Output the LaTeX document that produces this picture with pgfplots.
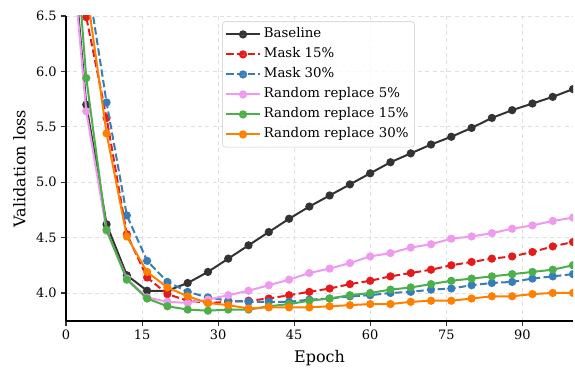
\documentclass[border=0pt]{standalone}
\usepackage{pgfplots}
\pgfplotsset{compat=1.18}
\usepackage{fontspec}
\setmainfont{DejaVu Serif}
\definecolor{cbase}{HTML}{333333}
\definecolor{cred}{HTML}{E41A1C}
\definecolor{cblue}{HTML}{377EB8}
\definecolor{cpink}{HTML}{EE9AEE}
\definecolor{cgreen}{HTML}{4DAF4A}
\definecolor{corange}{HTML}{FF7F00}
\begin{document}
\begin{tikzpicture}
\begin{axis}[
  width=380.25pt, height=228.75pt, scale only axis,
  xmin=0, xmax=100, ymin=3.747, ymax=6.5,
  axis x line*=bottom, axis y line*=left,
  axis line style={line width=0.8pt, black, -},
  xtick={0,15,30,45,60,75,90},
  ytick={4.0,4.5,5.0,5.5,6.0,6.5},
  yticklabel style={/pgf/number format/fixed, /pgf/number format/fixed zerofill, /pgf/number format/precision=1},
  /pgf/number format/assume math mode=true,
  tick label style={font=\fontsize{9.7}{11}\selectfont},
  tick align=outside, major tick length=3.5pt,
  tick style={line width=0.8pt, black!80},
  grid=major,
  major grid style={dash pattern=on 3pt off 2.5pt, color=black!12, line width=0.6pt},
  xlabel={Epoch}, ylabel={Validation loss},
  label style={font=\fontsize{12}{14}\selectfont},
  xlabel style={yshift=-0.5pt},
  ylabel style={yshift=1pt},
  clip marker paths=true,
  every axis plot/.append style={line width=1.5pt, mark=*, mark size=2.3pt, mark options={solid}},
  legend style={at={(0.3085,0.982)}, anchor=north west, draw=black!20, rounded corners=2pt,
    fill=white, fill opacity=0.8, text opacity=1, font=\fontsize{10}{12}\selectfont,
    row sep=0pt, inner sep=2pt,
    nodes={text height=7.6pt, text depth=2.6pt, inner sep=2.4pt}},
  legend cell align=left,
  legend image code/.code={\draw[mark repeat=2,mark phase=2] plot coordinates {(0pt,0pt) (12.5pt,0pt) (25pt,0pt)};},
]
\addplot[color=cbase] coordinates {
(0,7.8) (4,5.70) (8,4.62) (12,4.16) (16,4.02) (20,4.02) (24,4.09) (28,4.19) (32,4.31) (36,4.43) (40,4.55) (44,4.67) (48,4.78) (52,4.88) (56,4.98) (60,5.08) (64,5.18) (68,5.26) (72,5.34) (76,5.41) (80,5.49) (84,5.58) (88,5.65) (92,5.71) (96,5.77) (100,5.84)};
\addlegendentry{Baseline}
\addplot[color=cred, dash pattern=on 5.5pt off 2.5pt] coordinates {
(0,8.3) (4,6.49) (8,5.58) (12,4.53) (16,4.14) (20,3.99) (24,3.93) (28,3.91) (32,3.92) (36,3.93) (40,3.95) (44,3.98) (48,4.01) (52,4.04) (56,4.08) (60,4.11) (64,4.15) (68,4.18) (72,4.21) (76,4.25) (80,4.28) (84,4.31) (88,4.33) (92,4.37) (96,4.42) (100,4.46)};
\addlegendentry{Mask 15\%}
\addplot[color=cblue, dash pattern=on 5.5pt off 2.5pt] coordinates {
(0,8.5) (4,6.9) (8,5.72) (12,4.70) (16,4.29) (20,4.10) (24,4.01) (28,3.96) (32,3.93) (36,3.92) (40,3.92) (44,3.92) (48,3.94) (52,3.95) (56,3.97) (60,3.98) (64,4.00) (68,4.01) (72,4.03) (76,4.04) (80,4.07) (84,4.09) (88,4.10) (92,4.13) (96,4.15) (100,4.17)};
\addlegendentry{Mask 30\%}
\addplot[color=cpink] coordinates {
(0,7.7) (4,5.64) (8,4.56) (12,4.13) (16,3.96) (20,3.92) (24,3.91) (28,3.94) (32,3.98) (36,4.02) (40,4.07) (44,4.12) (48,4.18) (52,4.22) (56,4.27) (60,4.33) (64,4.36) (68,4.41) (72,4.44) (76,4.49) (80,4.51) (84,4.54) (88,4.58) (92,4.61) (96,4.65) (100,4.68)};
\addlegendentry{Random replace 5\%}
\addplot[color=cgreen] coordinates {
(0,8.3) (4,5.94) (8,4.57) (12,4.12) (16,3.95) (20,3.88) (24,3.85) (28,3.84) (32,3.85) (36,3.85) (40,3.88) (44,3.90) (48,3.93) (52,3.95) (56,3.98) (60,4.00) (64,4.03) (68,4.05) (72,4.08) (76,4.11) (80,4.13) (84,4.15) (88,4.17) (92,4.19) (96,4.21) (100,4.25)};
\addlegendentry{Random replace 15\%}
\addplot[color=corange] coordinates {
(0,8.6) (4,6.75) (8,5.44) (12,4.51) (16,4.19) (20,4.05) (24,3.97) (28,3.91) (32,3.89) (36,3.86) (40,3.87) (44,3.87) (48,3.87) (52,3.88) (56,3.89) (60,3.90) (64,3.90) (68,3.92) (72,3.93) (76,3.93) (80,3.95) (84,3.97) (88,3.97) (92,3.99) (96,4.00) (100,4.00)};
\addlegendentry{Random replace 30\%}
\end{axis}
\pgfresetboundingbox
\path ([shift={(-49.5pt,-35.25pt)}]current axis.south west) rectangle ([shift={(1.5pt,12pt)}]current axis.north east);
\end{tikzpicture}
\end{document}
